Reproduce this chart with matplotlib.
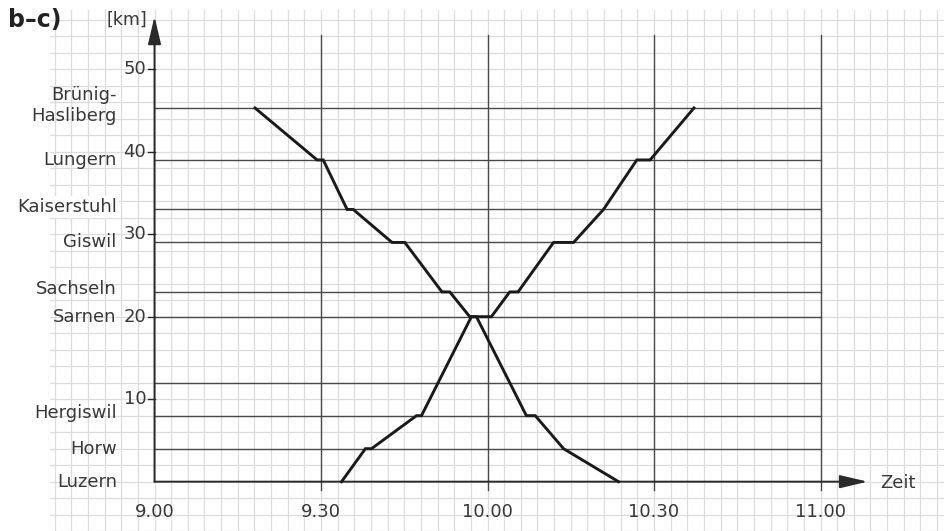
import matplotlib
matplotlib.use("Agg")
import matplotlib.pyplot as plt
import numpy as np

# ---- data ----
stations = ["Luzern", "Horw", "Hergiswil", "Sarnen", "Sachseln", "Giswil",
            "Kaiserstuhl", "Lungern", "Brünig-\nHasliberg"]
station_km = [0, 4, 8, 20, 23, 29, 33, 39, 45.3]
extra_line_km = [12]

# minutes after 9.00
down_t = [18.1, 29.3, 30.4, 34.7, 35.8, 42.8, 45.1, 51.8, 53.2, 56.8, 58.0, 67.0, 68.6, 73.7, 83.6]
down_km = [45.3, 39, 39, 33, 33, 29, 29, 23, 23, 20, 20, 8, 8, 4, 0]

up_t = [33.7, 38.0, 39.1, 47.2, 48.1, 57.1, 60.7, 64.0, 65.5, 71.9, 75.5, 80.9, 86.9, 89.3, 97.2]
up_km = [0, 4, 4, 8, 8, 20, 20, 23, 23, 29, 29, 33, 39, 39, 45.3]

x_ticks = [0, 30, 60, 90, 120]
x_labels = ["9.00", "9.30", "10.00", "10.30", "11.00"]
y_ticks = [10, 20, 30, 40, 50]
y_labels = ["10", "20", "30", "40", "50"]

# ---- figure ----
fig = plt.figure(figsize=(9.45, 5.31), dpi=100)
ax = fig.add_axes([0, 0, 1, 1])
X0, X1 = -27.84, 142.43
Y0, Y1 = -5.98, 58.39
ax.set_xlim(X0, X1)
ax.set_ylim(Y0, Y1)
ax.axis("off")

TXT = "#383838"
FS = 13

# graph paper grid
gx0, gx1 = -18.8, X1
gy0, gy1 = Y0, 57.2
for gx in np.arange(-18, X1, 3):
    ax.plot([gx, gx], [gy0, gy1], color="#dcdcdc", lw=0.9, zorder=0)
for gy in np.arange(-6, gy1, 2):
    ax.plot([gx0, gx1], [gy, gy], color="#dcdcdc", lw=0.9, zorder=0)

# station horizontal lines
for km in list(station_km) + extra_line_km:
    if km == 0:
        continue
    ax.plot([0, 120], [km, km], color="#4a4a4a", lw=1.0, zorder=2)

# major vertical lines
for t in x_ticks[1:]:
    ax.plot([t, t], [-1.0, 54.1], color="#4a4a4a", lw=1.0, zorder=2)

# axes with arrows
ax.annotate("", xy=(128.5, 0), xytext=(0, 0),
            arrowprops=dict(arrowstyle="-|>,head_length=0.85,head_width=0.2",
                            mutation_scale=20, lw=1.4, color="#2a2a2a",
                            shrinkA=0, shrinkB=0), zorder=4)
ax.annotate("", xy=(0, 56.4), xytext=(0, 0),
            arrowprops=dict(arrowstyle="-|>,head_length=0.85,head_width=0.2",
                            mutation_scale=20, lw=1.4, color="#2a2a2a",
                            shrinkA=0, shrinkB=0), zorder=4)

# y ticks
for v, lab in zip(y_ticks, y_labels):
    ax.plot([-1.2, 0], [v, v], color="#2a2a2a", lw=1.0, zorder=4)
    ax.text(-1.5, v, lab, ha="right", va="center", fontsize=FS, color=TXT)

# x tick labels
for v, lab in zip(x_ticks, x_labels):
    ax.text(v, -3.7, lab, ha="center", va="center", fontsize=FS, color=TXT)

# station names
for name, km in zip(stations, station_km):
    y = km
    kw = {}
    if name == "Kaiserstuhl":
        kw["bbox"] = dict(facecolor="white", edgecolor="none", pad=1.5)
        y = km + 0.3
    if "\n" in name:
        y = km + 0.3
    if name == "Sachseln":
        y = km + 0.4
    if name == "Hergiswil":
        y = km + 0.3
    ax.text(-6.8, y, name, ha="right", va="center", fontsize=FS, color=TXT,
            linespacing=1.15, zorder=3, **kw)

# trains
ax.plot(down_t, down_km, color="#1a1a1a", lw=2.1, solid_joinstyle="miter", zorder=5)
ax.plot(up_t, up_km, color="#1a1a1a", lw=2.1, solid_joinstyle="miter", zorder=5)

# labels
ax.text(130.7, -0.2, "Zeit", ha="left", va="center", fontsize=FS, color=TXT)
ax.text(-1.3, 56.0, "[km]", ha="right", va="center", fontsize=12.5, color=TXT)
ax.text(-26.4, 56.0, "b–c)", ha="left", va="center", fontsize=17,
        fontweight="bold", color="#222222")

fig.savefig("out.png", dpi=100)
